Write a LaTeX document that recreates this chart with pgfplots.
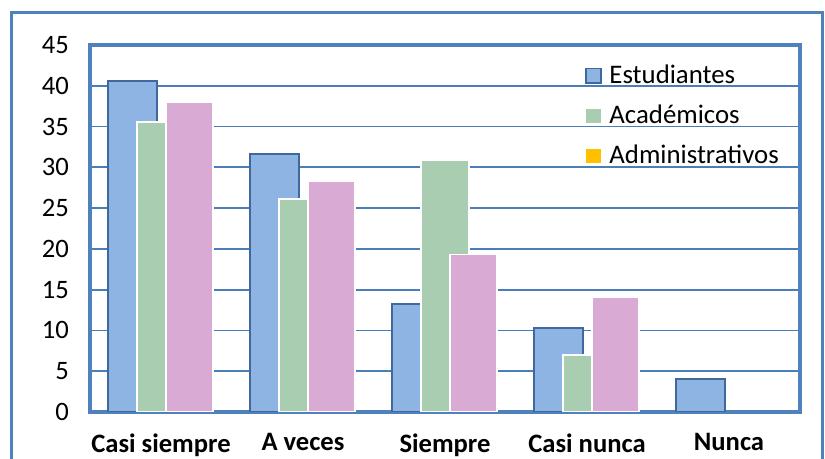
\documentclass[border=0pt]{standalone}
\usepackage{fontspec}
\setmainfont{Carlito}
\usepackage{pgfplots}
\pgfplotsset{compat=1.18}
\definecolor{frameblue}{HTML}{4F81BD}
\definecolor{gridblue}{HTML}{4A7EBB}
\definecolor{estfill}{HTML}{8EB4E3}
\definecolor{estdraw}{HTML}{41689C}
\definecolor{acafill}{HTML}{A8CDB1}
\definecolor{admfill}{HTML}{D9ABD4}
\definecolor{admleg}{HTML}{FFC000}
\begin{document}
\begin{tikzpicture}[x=1pt,y=1pt]
\path[use as bounding box] (-45,-23.5) rectangle (367.5,206);
\draw[frameblue, line width=1.5pt] (-39,-40) rectangle (366,199.5);
\begin{axis}[
  at={(0,0)}, anchor=south west,
  scale only axis, width=355pt, height=183.5pt,
  xmin=-0.5, xmax=4.5, ymin=0, ymax=45,
  ytick={0,5,...,45},
  xtick={0,1,2,3,4},
  xticklabels={Casi siempre, A veces, Siempre, Casi nunca, Nunca},
  x tick label style={font=\fontsize{13.3}{15}\selectfont\bfseries, yshift=-7.3pt},
  y tick label style={font=\fontsize{13.3}{15}\selectfont, xshift=-7pt},
  /pgf/number format/assume math mode=true,
  major tick length=0pt,
  ymajorgrids, grid style={gridblue, line width=0.9pt},
  axis line style={frameblue, line width=1.6pt},
  legend style={draw=none, fill=none, at={(rel axis cs:0.697,0.958)}, anchor=north west,
    font=\fontsize{13.4}{15}\selectfont, row sep=5.3pt, inner sep=0pt},
  legend cell align=left,
]
\addlegendimage{legend image code/.code={\draw[fill=estfill, draw=estdraw, line width=0.8pt] (0pt,-3.6pt) rectangle (7.4pt,3.6pt); \path (0pt,0pt) (9.5pt,0pt);}}
\addlegendentry{Estudiantes}
\addlegendimage{legend image code/.code={\fill[acafill] (0.3pt,-3.4pt) rectangle (7.1pt,3.4pt); \path (0pt,0pt) (9.5pt,0pt);}}
\addlegendentry{Académicos}
\addlegendimage{legend image code/.code={\fill[admleg] (0.3pt,-3.4pt) rectangle (7.1pt,3.4pt); \path (0pt,0pt) (9.5pt,0pt);}}
\addlegendentry{Administrativos}
\addplot[ybar, bar width=0.345, bar shift=-0.2, fill=estfill, draw=estdraw, line width=0.9pt, forget plot]
  coordinates {(0,40.6) (1,31.6) (2,13.2) (3,10.3) (4,4.05)};
\addplot[ybar, bar width=0.34, bar shift=0, fill=acafill, draw=white, line width=0.9pt, forget plot]
  coordinates {(0,35.6) (1,26.1) (2,30.9) (3,7.0)};
\addplot[ybar, bar width=0.335, bar shift=0.2, fill=admfill, draw=white, line width=0.9pt, forget plot]
  coordinates {(0,38.0) (1,28.3) (2,19.3) (3,14.1)};
\end{axis}
\end{tikzpicture}
\end{document}
